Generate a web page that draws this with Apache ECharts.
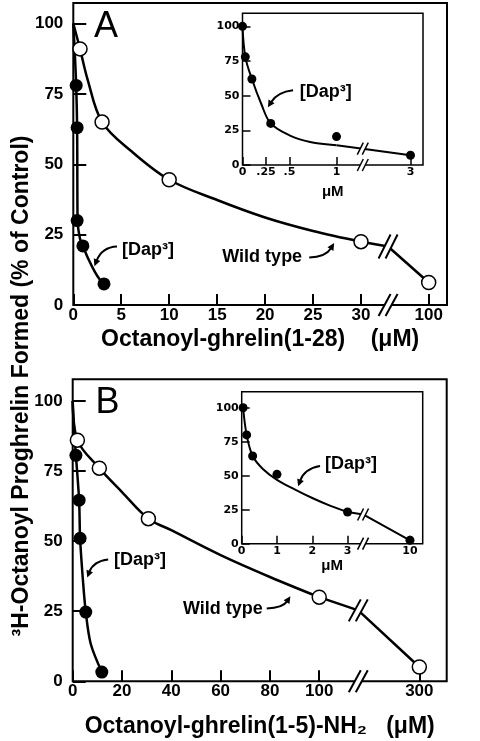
<!DOCTYPE html>
<html><head><meta charset="utf-8">
<script src="https://cdn.jsdelivr.net/npm/echarts@6/dist/echarts.min.js"></script>
<style>html,body{margin:0;padding:0;background:#fff}#c{width:480px;height:741px}</style>
</head><body><div id="c"></div>
<script>
// ---------------- DATA ----------------
// Panel A (Octanoyl-ghrelin(1-28), µM)
const ticksA = [0, 5, 10, 15, 20, 25, 30, 100];
const wtA_x = [0.7, 3, 10, 30, 100];
const wtA_y = [91, 65, 44.5, 22.5, 8];
const dapA_x = [0.3, 0.4, 0.4, 1, 3.2];
const dapA_y = [78, 63, 30, 21, 7.5];
const wtCurveA_x = [0, 0.7, 1.5, 3, 6, 10, 15, 20, 25, 30];
const wtCurveA_y = [100, 91, 80, 65, 54.8, 44.5, 37.3, 31.1, 26.3, 22.5];
const wtTailA_x = [30, 58, 100];
const wtTailA_y = [22.5, 20.8, 8];
const dapCurveA_x = [0, 0.15, 0.3, 0.4, 0.42, 0.45, 0.7, 1, 1.56, 2.26, 2.78, 3.2];
const dapCurveA_y = [100, 90, 78, 63, 45, 30, 23.5, 21, 16.4, 11.7, 9.0, 7.5];
// Panel A inset
const ticksInA = [0, 0.25, 0.5, 1, 3];
const tickLabelsInA = ['0', '.25', '.5', '1', '3'];
const dapInA_x = [0, 0.03, 0.1, 0.3, 1, 3];
const dapInA_y = [100, 78, 62, 30, 20.5, 7];
const dapInCurveA_x = [0, 0.03, 0.1, 0.2, 0.3, 0.5, 0.72, 1];
const dapInCurveA_y = [100, 78, 62, 44, 30, 21.4, 16.6, 14.2];
const dapInTailA_x = [1, 1.71, 3];
const dapInTailA_y = [14.2, 11.8, 7];
// Panel B (Octanoyl-ghrelin(1-5)-NH2, µM)
const ticksB = [0, 20, 40, 60, 80, 100, 300];
const wtB_x = [1.9, 10.8, 30.7, 100, 300];
const wtB_y = [86, 76, 58, 30, 5.1];
const dapB_x = [1.3, 2.6, 3, 5.3, 11.8];
const dapB_y = [80.6, 64.6, 51, 24.7, 3.3];
const wtCurveB_x = [0, 1.9, 10.8, 20, 30.7, 40, 60, 80, 100];
const wtCurveB_y = [100, 86, 76, 67.5, 58, 53.9, 45, 37.2, 30];
const wtTailB_x = [100, 178, 300];
const wtTailB_y = [30, 25.3, 5.1];
const dapCurveB_x = [0, 0.4, 1.3, 2.6, 3, 4.05, 5.3, 7.3, 11.8];
const dapCurveB_y = [100, 92, 80.6, 64.6, 51, 37.2, 24.7, 13.4, 3.3];
// Panel B inset
const ticksInB = [0, 1, 2, 3, 10];
const dapInB_x = [0.04, 0.14, 0.31, 1, 3, 10];
const dapInB_y = [100, 80, 64.5, 51, 23.3, 2.5];
const dapInCurveB_x = [0.04, 0.14, 0.31, 0.6, 1, 1.5, 2, 2.5, 3];
const dapInCurveB_y = [100, 80, 64.5, 55, 47, 40, 33.6, 28, 23.3];
const dapInTailB_x = [3, 4.74, 10];
const dapInTailB_y = [23.3, 21.5, 2.5];
const yTicks = [0, 25, 50, 75, 100];

// ---------------- broken-axis scales ----------------
const fA = v => v <= 30 ? v : 30 + (v - 30) * 7.06 / 70;
const fInA = v => v <= 1 ? v : 1 + (v - 1) * 0.787 / 2;
const fB = v => v <= 100 ? v : 100 + (v - 100) * 40.6 / 200;
const fInB = v => v <= 3 ? v : 3 + (v - 3) * 1.77 / 7;

const FONT = "'Liberation Sans', Arial, Helvetica, sans-serif";
const IFONT = "'DejaVu Sans', sans-serif";
const pairs = (xs, ys, f) => xs.map((x, i) => [f(x), ys[i]]);

const chart = echarts.init(document.getElementById('c'), null, {renderer: 'canvas'});

const grids = [
  {left: 73.3, top: 3, width: 373.7, height: 302, borderWidth: 2},
  {left: 242.5, top: 13.3, width: 180.5, height: 151.7, borderWidth: 1.5},
  {left: 72.7, top: 379.3, width: 374, height: 302, borderWidth: 2},
  {left: 241.7, top: 391.7, width: 181, height: 152, borderWidth: 1.5}
].map(g => Object.assign({show: true, borderColor: '#000', backgroundColor: 'transparent',
  containLabel: false, outerBoundsMode: 'none'}, g));

function xAx(gi, max, ticks, labels, f, inset, name, nameGap) {
  const vals = ticks.map(f);
  return {
    type: 'value', gridIndex: gi, min: 0, max: max,
    axisLine: {show: false},
    splitLine: {show: false},
    axisTick: {show: true, inside: true, length: inset ? 8 : 11, customValues: vals,
      lineStyle: {color: '#000', width: inset ? 1.5 : 2}},
    axisLabel: {show: true, customValues: vals, margin: 2, color: '#000',
      fontFamily: inset ? IFONT : FONT, fontWeight: 'bold', fontSize: inset ? 11 : 17,
      formatter: v => { let bi = 0; vals.forEach((t, i) => { if (Math.abs(t - v) < Math.abs(vals[bi] - v)) bi = i; }); return labels[bi]; }},
    name: name, nameLocation: 'middle', nameGap: nameGap,
    nameTextStyle: {color: '#000', fontFamily: FONT, fontWeight: 'bold', fontSize: inset ? 15 : 23, lineHeight: inset ? 15 : 23}
  };
}
function yAx(gi, max, inset) {
  return {
    type: 'value', gridIndex: gi, min: 0, max: max,
    axisLine: {show: false},
    splitLine: {show: false},
    axisTick: {show: true, inside: true, length: inset ? 8 : 13, customValues: yTicks,
      lineStyle: {color: '#000', width: inset ? 1.5 : 2}},
    axisLabel: {show: true, customValues: yTicks, margin: inset ? 3 : 10, color: '#000',
      fontFamily: inset ? IFONT : FONT, fontWeight: 'bold', fontSize: inset ? 11 : 17}
  };
}

const lineS = (gi, data, smooth, w) => ({type: 'line', xAxisIndex: gi, yAxisIndex: gi, data: data,
  smooth: smooth, symbol: 'none', lineStyle: {color: '#000', width: w}, z: 2, silent: true});
const ptS = (gi, data, open, size) => ({type: 'scatter', xAxisIndex: gi, yAxisIndex: gi, data: data,
  symbol: 'circle', symbolSize: size, z: 5, silent: true,
  itemStyle: open ? {color: '#fff', borderColor: '#000', borderWidth: 1.5, opacity: 1} : {color: '#000', opacity: 1}});

chart.setOption({
  animation: false,
  backgroundColor: '#fff',
  grid: grids,
  xAxis: [
    xAx(0, 38.97, ticksA, ticksA.map(String), fA, false, 'Octanoyl-ghrelin(1-28)    (\u03bcM)', 23),
    xAx(1, 1.92, ticksInA, tickLabelsInA, fInA, true, '\u03bcM', 19),
    xAx(2, 151.7, ticksB, ticksB.map(String), fB, false, 'Octanoyl-ghrelin(1-5)-NH\u2082   (\u03bcM)', 34),
    xAx(3, 5.13, ticksInB, ticksInB.map(String), fInB, true, '\u03bcM', 15)
  ],
  yAxis: [yAx(0, 107.3, false), yAx(1, 109.4, true), yAx(2, 107.7, false), yAx(3, 111.8, true)],
  series: [
    lineS(0, pairs(wtCurveA_x, wtCurveA_y, fA), 0.35, 2.5),
    lineS(0, pairs(wtTailA_x, wtTailA_y, fA), false, 2.5),
    lineS(0, pairs(dapCurveA_x, dapCurveA_y, fA), 0.3, 2.5),
    ptS(0, pairs(wtA_x, wtA_y, fA), true, 14),
    ptS(0, pairs(dapA_x, dapA_y, fA), false, 13),
    lineS(1, pairs(dapInCurveA_x, dapInCurveA_y, fInA), 0.35, 2),
    lineS(1, pairs(dapInTailA_x, dapInTailA_y, fInA), false, 2),
    ptS(1, pairs(dapInA_x, dapInA_y, fInA), false, 9),
    lineS(2, pairs(wtCurveB_x, wtCurveB_y, fB), 0.35, 2.5),
    lineS(2, pairs(wtTailB_x, wtTailB_y, fB), false, 2.5),
    lineS(2, pairs(dapCurveB_x, dapCurveB_y, fB), 0.3, 2.5),
    ptS(2, pairs(wtB_x, wtB_y, fB), true, 14),
    ptS(2, pairs(dapB_x, dapB_y, fB), false, 13),
    lineS(3, pairs(dapInCurveB_x, dapInCurveB_y, fInB), 0.35, 2),
    lineS(3, pairs(dapInTailB_x, dapInTailB_y, fInB), false, 2),
    ptS(3, pairs(dapInB_x, dapInB_y, fInB), false, 9)
  ]
});

// ---------------- annotations ----------------
const px = (gi, x, y) => chart.convertToPixel({gridIndex: gi}, [x, y]);
const els = [];
function brk(p, h, w, gap, lw) {
  const cx = p[0], cy = p[1];
  const x0 = cx - gap / 2, x1 = cx + gap / 2;
  els.push({type: 'polygon', z: 100, shape: {points: [[x0 - w / 2, cy + h / 2], [x0 + w / 2, cy - h / 2], [x1 + w / 2, cy - h / 2], [x1 - w / 2, cy + h / 2]]},
    style: {fill: '#fff', stroke: null}});
  [x0, x1].forEach(x => els.push({type: 'line', z: 101, shape: {x1: x - w / 2, y1: cy + h / 2, x2: x + w / 2, y2: cy - h / 2},
    style: {stroke: '#000', lineWidth: lw}}));
}
function arrow(gi, s, c, e, lw, L, W) {
  const P0 = px(gi, s[0], s[1]), C = px(gi, c[0], c[1]), P2 = px(gi, e[0], e[1]);
  const dx = P2[0] - C[0], dy = P2[1] - C[1], d = Math.hypot(dx, dy), ux = dx / d, uy = dy / d;
  const b = [P2[0] - ux * L, P2[1] - uy * L];
  els.push({type: 'bezierCurve', z: 100, shape: {x1: P0[0], y1: P0[1], cpx1: C[0], cpy1: C[1], x2: b[0] + ux, y2: b[1] + uy},
    style: {stroke: '#000', lineWidth: lw, fill: null}});
  els.push({type: 'polygon', z: 100, shape: {points: [P2, [b[0] - uy * W, b[1] + ux * W], [b[0] + uy * W, b[1] - ux * W]]},
    style: {fill: '#000', stroke: null}});
}
function txt(gi, x, y, t, size, weight) {
  const p = px(gi, x, y);
  els.push({type: 'text', z: 100, x: p[0], y: p[1], style: {text: t, fill: '#000', fontFamily: FONT, fontSize: size,
    fontWeight: weight, align: 'center', verticalAlign: 'middle'}});
}

// breaks (at tail middle points and on x axes)
brk(px(0, fA(wtTailA_x[1]), wtTailA_y[1]), 24, 12, 7, 2);
brk(px(0, fA(wtTailA_x[1]), 0), 22, 12, 7, 2);
brk(px(1, fInA(dapInTailA_x[1]), dapInTailA_y[1]), 12, 6, 5, 1.5);
brk(px(1, fInA(dapInTailA_x[1]), 0), 12, 6, 5, 1.5);
brk(px(2, fB(wtTailB_x[1]), wtTailB_y[1]), 22, 12, 7, 2);
brk(px(2, fB(wtTailB_x[1]), 0), 22, 12, 7, 2);
brk(px(3, fInB(dapInTailB_x[1]), dapInTailB_y[1]), 12, 6, 5, 1.5);
brk(px(3, fInB(dapInTailB_x[1]), 0), 12, 6, 5, 1.5);

// labels & arrows
txt(0, 3.41, 98.9, 'A', 36, 'normal');
txt(2, 14.1, 99.2, 'B', 36, 'normal');
txt(0, 7.8, 19.7, '[Dap\u00b3]', 18, 'bold');
arrow(0, [4.56, 20.8], [3.0, 20.6], [2.2, 13.8], 2, 7, 3.5);
txt(0, 19.7, 16.9, 'Wild type', 18, 'bold');
arrow(0, [24.6, 16.9], [26.3, 17.0], [27.2, 22.0], 2, 7, 3.5);
txt(1, 0.886, 52.7, '[Dap\u00b3]', 18, 'bold');
arrow(1, [0.538, 53.9], [0.37, 52.6], [0.27, 41.6], 2, 7, 3.5);
txt(2, 27.3, 43.2, '[Dap\u00b3]', 18, 'bold');
arrow(2, [14.4, 43.4], [8.4, 42.8], [5.9, 37.0], 2, 7, 3.5);
txt(2, 60.9, 25.9, 'Wild type', 18, 'bold');
arrow(2, [78.7, 26.0], [85.2, 26.2], [88.3, 30.3], 2, 7, 3.5);
txt(3, 3.10, 58.4, '[Dap\u00b3]', 18, 'bold');
arrow(3, [2.22, 57.1], [1.78, 55.2], [1.6, 42.2], 2, 7, 3.5);

// shared y-axis title
els.push({type: 'text', z: 100, x: 22, y: 386, rotation: Math.PI / 2,
  style: {text: '\u00b3H-Octanoyl Proghrelin Formed (% of Control)', fill: '#000', fontFamily: FONT,
    fontSize: 23, fontWeight: 'bold', align: 'center', verticalAlign: 'middle'}});

chart.setOption({graphic: {elements: els}});
</script>
</body></html>
